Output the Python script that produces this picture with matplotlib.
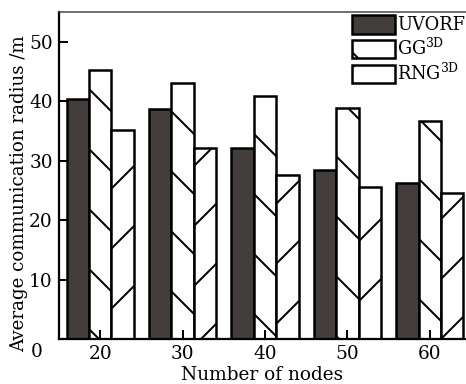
import numpy as np
import matplotlib
matplotlib.use("Agg")
import matplotlib.pyplot as plt

# data
nodes = [20, 30, 40, 50, 60]
uvorf = [40.4, 38.6, 32.2, 28.5, 26.2]
gg3d = [45.3, 43.1, 40.9, 38.9, 36.6]
rng3d = [35.2, 32.2, 27.6, 25.5, 24.5]
labels = ["UVORF", "GG$^{\\mathrm{3D}}$", "RNG$^{\\mathrm{3D}}$"]

plt.rcParams['font.family'] = ['DejaVu Serif']
plt.rcParams['mathtext.fontset'] = 'dejavuserif'
plt.rcParams['hatch.linewidth'] = 0.8
plt.rcParams['hatch.color'] = 'black'

dpi = 180
fig = plt.figure(figsize=(466 / dpi, 384 / dpi), dpi=dpi)
ax = fig.add_axes([0.1266, 0.1172, 0.8734, 0.8516])

x = np.array(nodes, dtype=float)
w = 2.72
ax.bar(x - w, uvorf, w, color='#433e3c', edgecolor='black', linewidth=1.0, label=labels[0])
ax.bar(x, gg3d, w, color='white', edgecolor='black', linewidth=1.0, hatch='\\', label=labels[1])
ax.bar(x + w, rng3d, w, color='white', edgecolor='black', linewidth=1.0, hatch='/', label=labels[2])

ax.set_xlim(15.0, 64.4)
ax.set_ylim(0, 55)
ax.set_xticks(nodes)
ax.set_yticks([10, 20, 30, 40, 50])
ax.tick_params(direction='in', labelsize=7.4, length=3.5, width=0.8, pad=2.5)
ax.text(-0.04, -0.04, "0", transform=ax.transAxes, fontsize=7.4, ha='right', va='center')

for s in ['left', 'bottom']:
    ax.spines[s].set_linewidth(0.9)
ax.spines['top'].set_linewidth(0.6)
ax.spines['top'].set_color('#444444')
ax.spines['right'].set_visible(False)

ax.set_xlabel("Number of nodes", fontsize=7.4, labelpad=1)
ax.set_ylabel("Average communication radius /m", fontsize=7.3)
ax.yaxis.set_label_coords(-0.076, 0.445)

ax.legend(loc='upper left', bbox_to_anchor=(0.716, 0.995), frameon=False, fontsize=7.1,
          handlelength=2.4, handleheight=1.2, handletextpad=0.15, labelspacing=0.2,
          borderaxespad=0.0, borderpad=0.1)

fig.savefig("out.png", dpi=dpi)
